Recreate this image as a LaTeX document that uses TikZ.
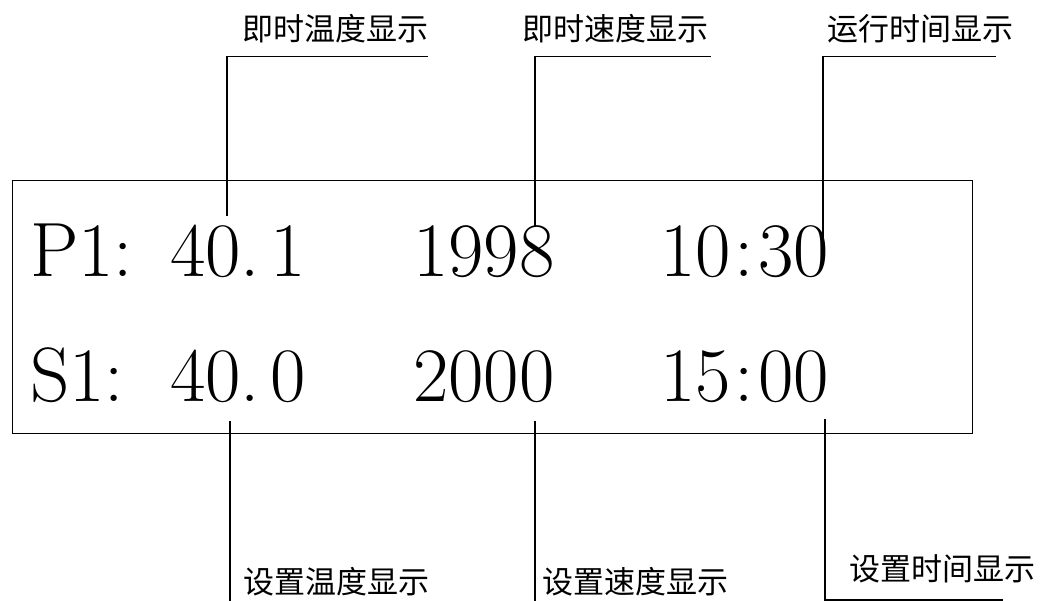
\documentclass[tikz,border=0pt]{standalone}
\usepackage{fontspec}
\newfontfamily\cjk{Noto Sans CJK SC}
\tikzstyle{reading} = [inner sep=0pt, anchor=base west, font=\fontsize{77}{82}\selectfont]
\tikzstyle{caption} = [inner sep=0pt, anchor=base, font=\cjk\fontsize{31}{36}\selectfont]
\tikzstyle{lead} = [line width=1.2pt]

\begin{document}
\begin{tikzpicture}[x=1pt, y=-1pt]
\useasboundingbox (0,0) rectangle (1042,601);

\node (panel) [draw, line width=1.2pt, inner sep=0pt, minimum width=960pt, minimum height=253pt, anchor=north west] at (12,180) {};

\node (p_row) [reading] at (30,277) {\makebox[140pt][l]{P1:}40.\hspace{10pt}1};
\node (p_speed) [reading] at (413,277) {1998};
\node (p_time) [reading] at (660,277) {10\hspace{4pt}:\hspace{4pt}30};
\node (s_row) [reading] at (30,402) {\makebox[140pt][l]{S1:}40.\hspace{10pt}0};
\node (s_speed) [reading] at (413,402) {2000};
\node (s_time) [reading] at (660,402) {15\hspace{4pt}:\hspace{4pt}00};

\node (temp_now) [caption] at (335,41) {即时温度显示};
\node (speed_now) [caption] at (615,41) {即时速度显示};
\node (time_now) [caption] at (920,41) {运行时间显示};
\node (temp_set) [caption] at (336,593) {设置温度显示};
\node (speed_set) [caption] at (635,593) {设置速度显示};
\node (time_set) [caption] at (942,580) {设置时间显示};

\coordinate (temp_now_in) at (227,216);
\coordinate (temp_now_end) at (428,56.5);
\coordinate (speed_now_in) at (535,227);
\coordinate (speed_now_end) at (711,56.5);
\coordinate (time_now_in) at (823,240);
\coordinate (time_now_end) at (996,56.5);
\coordinate (temp_set_in) at (230,421);
\coordinate (temp_set_end) at (230,601);
\coordinate (speed_set_in) at (535,421);
\coordinate (speed_set_end) at (535,601);
\coordinate (time_set_in) at (825,419);
\coordinate (time_set_end) at (1003,600);

\draw [lead] (temp_now_in) |- (temp_now_end);
\draw [lead] (speed_now_in) |- (speed_now_end);
\draw [lead] (time_now_in) |- (time_now_end);
\draw [lead] (temp_set_in) -- (temp_set_end);
\draw [lead] (speed_set_in) -- (speed_set_end);
\draw [lead] (time_set_in) |- (time_set_end);

\end{tikzpicture}
\end{document}
